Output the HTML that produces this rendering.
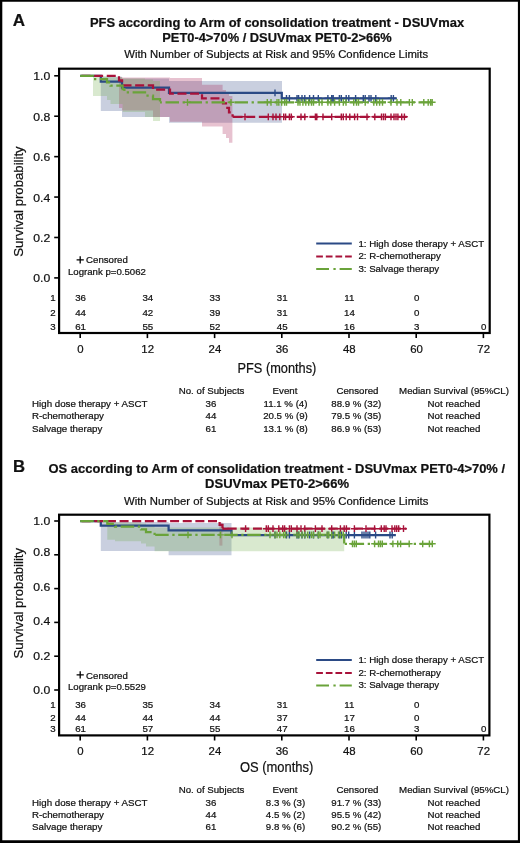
<!DOCTYPE html>
<html><head><meta charset="utf-8"><title>Figure</title>
<style>html,body{margin:0;padding:0;background:#fff;}body{width:520px;height:843px;overflow:hidden;position:relative;font-family:"Liberation Sans", sans-serif;}svg{position:absolute;left:0;top:0;display:block;will-change:transform;}svg text{font-family:"Liberation Sans", sans-serif;fill:#111;stroke:#111;stroke-width:0.22px;}</style></head><body>
<svg width="520" height="843" viewBox="0 0 520 843">
<rect x="0" y="0" width="520" height="843" fill="#fff"/>
<text x="12.7" y="25.7" font-size="17.0" text-anchor="start" font-weight="bold" >A</text>
<text x="277" y="26.6" font-size="12.85" text-anchor="middle" font-weight="bold" textLength="374.2" lengthAdjust="spacingAndGlyphs">PFS according to Arm of consolidation treatment - DSUVmax</text>
<text x="277" y="42.0" font-size="12.85" text-anchor="middle" font-weight="bold" textLength="229.5" lengthAdjust="spacingAndGlyphs">PET0-4&gt;70% / DSUVmax PET0-2&gt;66%</text>
<text x="276.2" y="58.4" font-size="11.3" text-anchor="middle" font-weight="normal" textLength="304" lengthAdjust="spacingAndGlyphs">With Number of Subjects at Risk and 95% Confidence Limits</text>
<path d="M100.8 76.8 L100.8 76.8 L122 76.8 L122 78.6 L169 78.6 L169 81.1 L282 81.1 L282 122.7 L169 122.7 L169 117 L122 117 L122 111 L100.8 111 Z" fill="rgba(75,95,150,0.30)" stroke="none"/>
<path d="M119 77.3 L119 77.3 L122 77.3 L122 77.5 L153 77.5 L153 77.6 L170 77.6 L170 78 L202 78 L202 84.8 L222.6 84.8 L222.6 90 L226 90 L226 93 L229 93 L229 96 L232.4 96 L232.4 142.7 L229 142.7 L229 138 L226 138 L226 134 L222.6 134 L222.6 126.5 L202 126.5 L202 121.7 L170 121.7 L170 117 L153 117 L153 110.5 L122 110.5 L122 108 L119 108 Z" fill="rgba(165,30,80,0.27)" stroke="none"/>
<path d="M93 76.2 L93 76.2 L107 76.2 L107 76.6 L110.5 76.6 L110.5 77.2 L122.6 77.2 L122.6 78.5 L145 78.5 L145 79.5 L153 79.5 L153 81 L160 81 L160 121 L153 121 L153 117 L145 117 L145 112 L122.6 112 L122.6 104 L110.5 104 L110.5 100 L107 100 L107 96 L93 96 Z" fill="rgba(110,170,70,0.26)" stroke="none"/>
<path d="M80.2 75.8 H100.8 V81.6 H122 V87.5 H169 V92.9 H281.8 V98.3 H396.5" stroke="#2b4a85" stroke-width="2.25" fill="none" />
<path d="M80.2 75.8 H119 V80.4 H122 V85.3 H153 V89.6 H170 V93.5 H202 V98.4 H223 V103.3 H226 V107.9 H229 V112.4 H232.6 V116.8" stroke="#a8123a" stroke-width="2.25" fill="none" stroke-dasharray="9 3.63" stroke-dashoffset="11.33"/>
<path d="M232.6 116.8 H407.5" stroke="#a8123a" stroke-width="2.25" fill="none" stroke-dasharray="9 3.63" stroke-dashoffset="11.63"/>
<path d="M80.2 75.8 H93 V79.1 H107 V82.4 H110.5 V85.7 H122.6 V89.1 H124.4 V92.4 H145 V95.7 H153 V99.0 H160 V102.3" stroke="#6aa33a" stroke-width="2.25" fill="none" stroke-dasharray="13.5 3.6 2.3 3.6" stroke-dashoffset="0"/>
<path d="M160 102.3 H435.4" stroke="#6aa33a" stroke-width="2.25" fill="none" stroke-dasharray="13.5 3.6 2.3 3.6" stroke-dashoffset="17.5"/>
<path d="M232.6 116.8H234.2" stroke="#a8123a" stroke-width="2.25" fill="none"/>
<path d="M275 89.5V96.3M271.6 92.9H278.4" stroke="#2b4a85" stroke-width="1.4" fill="none"/>
<path d="M286.5 94.9V101.7M283.1 98.3H289.9 M289.4 94.9V101.7M286.0 98.3H292.8 M297 94.9V101.7M293.6 98.3H300.4 M298.6 94.9V101.7M295.2 98.3H302.0 M302 94.9V101.7M298.6 98.3H305.4 M304.8 94.9V101.7M301.4 98.3H308.2 M309.6 94.9V101.7M306.2 98.3H313.0 M313.5 94.9V101.7M310.1 98.3H316.9 M318.3 94.9V101.7M314.9 98.3H321.7 M327.9 94.9V101.7M324.5 98.3H331.3 M331.7 94.9V101.7M328.3 98.3H335.1 M333.2 94.9V101.7M329.8 98.3H336.6 M339.4 94.9V101.7M336.0 98.3H342.8 M341.3 94.9V101.7M337.9 98.3H344.7 M346.2 94.9V101.7M342.8 98.3H349.6 M348.8 94.9V101.7M345.4 98.3H352.2 M355.6 94.9V101.7M352.2 98.3H359.0 M363.3 94.9V101.7M359.9 98.3H366.7 M365.2 94.9V101.7M361.8 98.3H368.6 M369 94.9V101.7M365.6 98.3H372.4 M371 94.9V101.7M367.6 98.3H374.4 M375.8 94.9V101.7M372.4 98.3H379.2 M391.2 94.9V101.7M387.8 98.3H394.6 M393.4 94.9V101.7M390.0 98.3H396.8" stroke="#2b4a85" stroke-width="1.4" fill="none"/>
<path d="M245 113.4V120.2M241.6 116.8H248.4 M268.3 113.4V120.2M264.9 116.8H271.7 M273 113.4V120.2M269.6 116.8H276.4 M276 113.4V120.2M272.6 116.8H279.4 M279.8 113.4V120.2M276.4 116.8H283.2 M283.7 113.4V120.2M280.3 116.8H287.1 M285.6 113.4V120.2M282.2 116.8H289.0 M289.4 113.4V120.2M286.0 116.8H292.8 M291.3 113.4V120.2M287.9 116.8H294.7 M301 113.4V120.2M297.6 116.8H304.4 M304.8 113.4V120.2M301.4 116.8H308.2 M315.4 113.4V120.2M312.0 116.8H318.8 M316.8 113.4V120.2M313.4 116.8H320.2 M323 113.4V120.2M319.6 116.8H326.4 M331.7 113.4V120.2M328.3 116.8H335.1 M341.3 113.4V120.2M337.9 116.8H344.7 M343.3 113.4V120.2M339.9 116.8H346.7 M346.2 113.4V120.2M342.8 116.8H349.6 M349.8 113.4V120.2M346.4 116.8H353.2 M354.6 113.4V120.2M351.2 116.8H358.0 M357.5 113.4V120.2M354.1 116.8H360.9 M367 113.4V120.2M363.6 116.8H370.4 M374.8 113.4V120.2M371.4 116.8H378.2 M381.5 113.4V120.2M378.1 116.8H384.9 M383.5 113.4V120.2M380.1 116.8H386.9 M385.4 113.4V120.2M382.0 116.8H388.8 M391 113.4V120.2M387.6 116.8H394.4 M394 113.4V120.2M390.6 116.8H397.4 M396 113.4V120.2M392.6 116.8H399.4 M397.9 113.4V120.2M394.5 116.8H401.3 M401.7 113.4V120.2M398.3 116.8H405.1 M404.4 113.4V120.2M401.0 116.8H407.8" stroke="#a8123a" stroke-width="1.4" fill="none"/>
<path d="M187.5 98.9V105.7M184.1 102.3H190.9 M231 98.9V105.7M227.6 102.3H234.4 M267.3 98.9V105.7M263.9 102.3H270.7 M271 98.9V105.7M267.6 102.3H274.4 M277 98.9V105.7M273.6 102.3H280.4 M278.8 98.9V105.7M275.4 102.3H282.2 M281.7 98.9V105.7M278.3 102.3H285.1 M284.6 98.9V105.7M281.2 102.3H288.0 M286.5 98.9V105.7M283.1 102.3H289.9 M298 98.9V105.7M294.6 102.3H301.4 M300 98.9V105.7M296.6 102.3H303.4 M302.9 98.9V105.7M299.5 102.3H306.3 M305.8 98.9V105.7M302.4 102.3H309.2 M308.7 98.9V105.7M305.3 102.3H312.1 M311.5 98.9V105.7M308.1 102.3H314.9 M313.5 98.9V105.7M310.1 102.3H316.9 M319.2 98.9V105.7M315.8 102.3H322.6 M322 98.9V105.7M318.6 102.3H325.4 M327.9 98.9V105.7M324.5 102.3H331.3 M330.8 98.9V105.7M327.4 102.3H334.2 M334.6 98.9V105.7M331.2 102.3H338.0 M339.4 98.9V105.7M336.0 102.3H342.8 M343.3 98.9V105.7M339.9 102.3H346.7 M346 98.9V105.7M342.6 102.3H349.4 M353.7 98.9V105.7M350.3 102.3H357.1 M356.5 98.9V105.7M353.1 102.3H359.9 M358.5 98.9V105.7M355.1 102.3H361.9 M365.2 98.9V105.7M361.8 102.3H368.6 M373.8 98.9V105.7M370.4 102.3H377.2 M376.7 98.9V105.7M373.3 102.3H380.1 M379.6 98.9V105.7M376.2 102.3H383.0 M382.5 98.9V105.7M379.1 102.3H385.9 M391 98.9V105.7M387.6 102.3H394.4 M397 98.9V105.7M393.6 102.3H400.4 M400.8 98.9V105.7M397.4 102.3H404.2 M409.4 98.9V105.7M406.0 102.3H412.8 M412.3 98.9V105.7M408.9 102.3H415.7 M423.8 98.9V105.7M420.4 102.3H427.2 M428.2 98.9V105.7M424.8 102.3H431.6 M430.6 98.9V105.7M427.2 102.3H434.0 M432.2 98.9V105.7M428.8 102.3H435.6" stroke="#6aa33a" stroke-width="1.4" fill="none"/>
<rect x="59.1" y="68.7" width="430.59999999999997" height="264.3" fill="none" stroke="#000" stroke-width="2.2"/>
<path d="M54.2 75.8H59.1" stroke="#000" stroke-width="1.6"/>
<text x="50.3" y="80.25" font-size="11.6" text-anchor="end" font-weight="normal" textLength="17.0" lengthAdjust="spacingAndGlyphs">1.0</text>
<path d="M54.2 116.22H59.1" stroke="#000" stroke-width="1.6"/>
<text x="50.3" y="120.67" font-size="11.6" text-anchor="end" font-weight="normal" textLength="17.0" lengthAdjust="spacingAndGlyphs">0.8</text>
<path d="M54.2 156.64H59.1" stroke="#000" stroke-width="1.6"/>
<text x="50.3" y="161.09" font-size="11.6" text-anchor="end" font-weight="normal" textLength="17.0" lengthAdjust="spacingAndGlyphs">0.6</text>
<path d="M54.2 197.06H59.1" stroke="#000" stroke-width="1.6"/>
<text x="50.3" y="201.51" font-size="11.6" text-anchor="end" font-weight="normal" textLength="17.0" lengthAdjust="spacingAndGlyphs">0.4</text>
<path d="M54.2 237.48H59.1" stroke="#000" stroke-width="1.6"/>
<text x="50.3" y="241.93" font-size="11.6" text-anchor="end" font-weight="normal" textLength="17.0" lengthAdjust="spacingAndGlyphs">0.2</text>
<path d="M54.2 277.9H59.1" stroke="#000" stroke-width="1.6"/>
<text x="50.3" y="282.35" font-size="11.6" text-anchor="end" font-weight="normal" textLength="17.0" lengthAdjust="spacingAndGlyphs">0.0</text>
<path d="M80.2 333.0V338.1" stroke="#000" stroke-width="1.6"/>
<text x="80.5" y="352.7" font-size="11.4" text-anchor="middle" font-weight="normal" >0</text>
<path d="M147.4 333.0V338.1" stroke="#000" stroke-width="1.6"/>
<text x="147.70000000000002" y="352.7" font-size="11.4" text-anchor="middle" font-weight="normal" >12</text>
<path d="M214.6 333.0V338.1" stroke="#000" stroke-width="1.6"/>
<text x="214.9" y="352.7" font-size="11.4" text-anchor="middle" font-weight="normal" >24</text>
<path d="M281.8 333.0V338.1" stroke="#000" stroke-width="1.6"/>
<text x="282.1" y="352.7" font-size="11.4" text-anchor="middle" font-weight="normal" >36</text>
<path d="M349.0 333.0V338.1" stroke="#000" stroke-width="1.6"/>
<text x="349.3" y="352.7" font-size="11.4" text-anchor="middle" font-weight="normal" >48</text>
<path d="M416.2 333.0V338.1" stroke="#000" stroke-width="1.6"/>
<text x="416.5" y="352.7" font-size="11.4" text-anchor="middle" font-weight="normal" >60</text>
<path d="M483.4 333.0V338.1" stroke="#000" stroke-width="1.6"/>
<text x="483.7" y="352.7" font-size="11.4" text-anchor="middle" font-weight="normal" >72</text>
<text transform="translate(23.2 201.6) rotate(-90)" font-size="13.6" text-anchor="middle" textLength="110.5" lengthAdjust="spacingAndGlyphs">Survival probability</text>
<text x="276.9" y="373.3" font-size="15.4" text-anchor="middle" textLength="78.8" lengthAdjust="spacingAndGlyphs">PFS (months)</text>
<path d="M76.6 259.79999999999995H83.8M80.2 256.2V263.4" stroke="#000" stroke-width="1.3"/>
<text x="86.1" y="263.4" font-size="9.65" text-anchor="start" font-weight="normal" >Censored</text>
<text x="68" y="275.1" font-size="9.65" text-anchor="start" font-weight="normal" >Logrank p=0.5062</text>
<path d="M316.2 243.5H351.8" stroke="#2b4a85" stroke-width="2.0" />
<text x="358.4" y="246.8" font-size="9.7" text-anchor="start" font-weight="normal" >1: High dose therapy + ASCT</text>
<path d="M316.2 256.4H351.8" stroke="#a8123a" stroke-width="2.0" stroke-dasharray="6.7 2.93"/>
<text x="358.4" y="259.3" font-size="9.7" text-anchor="start" font-weight="normal" >2: R-chemotherapy</text>
<path d="M316.2 268.9H351.8" stroke="#6aa33a" stroke-width="2.0" stroke-dasharray="12.8 4.4 2.3 3.9"/>
<text x="358.4" y="271.5" font-size="9.7" text-anchor="start" font-weight="normal" >3: Salvage therapy</text>
<text x="55.6" y="301.29999999999995" font-size="9.7" text-anchor="end" font-weight="normal" >1</text>
<text x="80.6" y="301.29999999999995" font-size="9.7" text-anchor="middle" font-weight="normal" >36</text>
<text x="147.8" y="301.29999999999995" font-size="9.7" text-anchor="middle" font-weight="normal" >34</text>
<text x="215.0" y="301.29999999999995" font-size="9.7" text-anchor="middle" font-weight="normal" >33</text>
<text x="282.2" y="301.29999999999995" font-size="9.7" text-anchor="middle" font-weight="normal" >31</text>
<text x="349.4" y="301.29999999999995" font-size="9.7" text-anchor="middle" font-weight="normal" >11</text>
<text x="416.6" y="301.29999999999995" font-size="9.7" text-anchor="middle" font-weight="normal" >0</text>
<text x="55.6" y="315.59999999999997" font-size="9.7" text-anchor="end" font-weight="normal" >2</text>
<text x="80.6" y="315.59999999999997" font-size="9.7" text-anchor="middle" font-weight="normal" >44</text>
<text x="147.8" y="315.59999999999997" font-size="9.7" text-anchor="middle" font-weight="normal" >42</text>
<text x="215.0" y="315.59999999999997" font-size="9.7" text-anchor="middle" font-weight="normal" >39</text>
<text x="282.2" y="315.59999999999997" font-size="9.7" text-anchor="middle" font-weight="normal" >31</text>
<text x="349.4" y="315.59999999999997" font-size="9.7" text-anchor="middle" font-weight="normal" >14</text>
<text x="416.6" y="315.59999999999997" font-size="9.7" text-anchor="middle" font-weight="normal" >0</text>
<text x="55.6" y="329.7" font-size="9.7" text-anchor="end" font-weight="normal" >3</text>
<text x="80.6" y="329.7" font-size="9.7" text-anchor="middle" font-weight="normal" >61</text>
<text x="147.8" y="329.7" font-size="9.7" text-anchor="middle" font-weight="normal" >55</text>
<text x="215.0" y="329.7" font-size="9.7" text-anchor="middle" font-weight="normal" >52</text>
<text x="282.2" y="329.7" font-size="9.7" text-anchor="middle" font-weight="normal" >45</text>
<text x="349.4" y="329.7" font-size="9.7" text-anchor="middle" font-weight="normal" >16</text>
<text x="416.6" y="329.7" font-size="9.7" text-anchor="middle" font-weight="normal" >3</text>
<text x="483.8" y="329.7" font-size="9.7" text-anchor="middle" font-weight="normal" >0</text>
<text x="211.6" y="393.9" font-size="9.7" text-anchor="middle" font-weight="normal" >No. of Subjects</text>
<text x="285" y="393.9" font-size="9.7" text-anchor="middle" font-weight="normal" >Event</text>
<text x="357.5" y="393.9" font-size="9.7" text-anchor="middle" font-weight="normal" >Censored</text>
<text x="454" y="393.9" font-size="9.7" text-anchor="middle" font-weight="normal" >Median Survival (95%CL)</text>
<text x="32.1" y="406.7" font-size="9.72" text-anchor="start" font-weight="normal" >High dose therapy + ASCT</text>
<text x="211" y="406.7" font-size="9.7" text-anchor="middle" font-weight="normal" >36</text>
<text x="285.5" y="406.7" font-size="9.7" text-anchor="middle" font-weight="normal" >11.1 % (4)</text>
<text x="356.3" y="406.7" font-size="9.7" text-anchor="middle" font-weight="normal" >88.9 % (32)</text>
<text x="454" y="406.7" font-size="9.7" text-anchor="middle" font-weight="normal" >Not reached</text>
<text x="32.1" y="419.2" font-size="9.72" text-anchor="start" font-weight="normal" >R-chemotherapy</text>
<text x="211" y="419.2" font-size="9.7" text-anchor="middle" font-weight="normal" >44</text>
<text x="285.5" y="419.2" font-size="9.7" text-anchor="middle" font-weight="normal" >20.5 % (9)</text>
<text x="356.3" y="419.2" font-size="9.7" text-anchor="middle" font-weight="normal" >79.5 % (35)</text>
<text x="454" y="419.2" font-size="9.7" text-anchor="middle" font-weight="normal" >Not reached</text>
<text x="32.1" y="431.7" font-size="9.72" text-anchor="start" font-weight="normal" >Salvage therapy</text>
<text x="211" y="431.7" font-size="9.7" text-anchor="middle" font-weight="normal" >61</text>
<text x="285.5" y="431.7" font-size="9.7" text-anchor="middle" font-weight="normal" >13.1 % (8)</text>
<text x="356.3" y="431.7" font-size="9.7" text-anchor="middle" font-weight="normal" >86.9 % (53)</text>
<text x="454" y="431.7" font-size="9.7" text-anchor="middle" font-weight="normal" >Not reached</text>
<text x="13.0" y="472.2" font-size="16.7" text-anchor="start" font-weight="bold" >B</text>
<text x="276.8" y="472.5" font-size="12.85" text-anchor="middle" font-weight="bold" textLength="456.5" lengthAdjust="spacingAndGlyphs">OS according to Arm of consolidation treatment - DSUVmax PET0-4&gt;70% /</text>
<text x="277" y="487.7" font-size="12.85" text-anchor="middle" font-weight="bold" textLength="144" lengthAdjust="spacingAndGlyphs">DSUVmax PET0-2&gt;66%</text>
<text x="276.2" y="505.3" font-size="11.3" text-anchor="middle" font-weight="normal" textLength="304.5" lengthAdjust="spacingAndGlyphs">With Number of Subjects at Risk and 95% Confidence Limits</text>
<path d="M100.8 522 L100.8 522 L168.6 522 L168.6 523 L231.5 523 L231.5 555.2 L168.6 555.2 L168.6 551 L100.8 551 Z" fill="rgba(75,95,150,0.30)" stroke="none"/>
<path d="M219.4 522.5 L219.4 522.5 L222.4 522.5 L222.4 545.6 L219.4 545.6 Z" fill="rgba(165,30,80,0.27)" stroke="none"/>
<path d="M107.3 521.5 L107.3 521.5 L115 521.5 L115 522.4 L141 522.4 L141 523.6 L146 523.6 L146 525.0 L154.6 525.0 L154.6 527.6 L344.2 527.6 L344.2 551.3 L154.6 551.3 L154.6 546.5 L146 546.5 L146 543.6 L141 543.6 L141 541.3 L115 541.3 L115 539.8 L107.3 539.8 Z" fill="rgba(110,170,70,0.26)" stroke="none"/>
<path d="M80.2 521.0 H100.8 V525.7 H168.6 V530.4 H231.5 V535.0 H395.8" stroke="#2b4a85" stroke-width="2.25" fill="none" />
<path d="M80.2 521.0 H219.6 V524.8 H222.5 V528.7" stroke="#a8123a" stroke-width="2.25" fill="none" stroke-dasharray="9 3.63" stroke-dashoffset="11.13"/>
<path d="M222.5 528.7 H406.3" stroke="#a8123a" stroke-width="2.25" fill="none" stroke-dasharray="9 3.63" stroke-dashoffset="7.43"/>
<path d="M80.2 521.0 H107.3 V523.8 H115 V526.5 H141 V529.3 H146 V532.1 H154.6 V534.9" stroke="#6aa33a" stroke-width="2.25" fill="none" stroke-dasharray="13.5 3.6 2.3 3.6" stroke-dashoffset="0"/>
<path d="M154.6 534.9 H344.2 V543.8" stroke="#6aa33a" stroke-width="2.25" fill="none" stroke-dasharray="13.5 3.6 2.3 3.6" stroke-dashoffset="22.4"/>
<path d="M344.2 543.8 H435.2" stroke="#6aa33a" stroke-width="2.25" fill="none" stroke-dasharray="13.5 3.6 2.3 3.6" stroke-dashoffset="16.6"/>
<path d="M222.5 528.7H228.2" stroke="#a8123a" stroke-width="2.25" fill="none"/>
<path d="M275 531.6V538.4M271.6 535.0H278.4 M286.5 531.6V538.4M283.1 535.0H289.9 M289.4 531.6V538.4M286.0 535.0H292.8 M297 531.6V538.4M293.6 535.0H300.4 M298.6 531.6V538.4M295.2 535.0H302.0 M302 531.6V538.4M298.6 535.0H305.4 M304.8 531.6V538.4M301.4 535.0H308.2 M309.6 531.6V538.4M306.2 535.0H313.0 M313.5 531.6V538.4M310.1 535.0H316.9 M318.3 531.6V538.4M314.9 535.0H321.7 M327.9 531.6V538.4M324.5 535.0H331.3 M331.7 531.6V538.4M328.3 535.0H335.1 M333.2 531.6V538.4M329.8 535.0H336.6 M339.4 531.6V538.4M336.0 535.0H342.8 M341.3 531.6V538.4M337.9 535.0H344.7 M346.2 531.6V538.4M342.8 535.0H349.6 M348.7 531.6V538.4M345.3 535.0H352.1 M354.4 531.6V538.4M351.0 535.0H357.8 M362 531.6V538.4M358.6 535.0H365.4 M364 531.6V538.4M360.6 535.0H367.4 M366 531.6V538.4M362.6 535.0H369.4 M368 531.6V538.4M364.6 535.0H371.4 M369.8 531.6V538.4M366.4 535.0H373.2 M375.6 531.6V538.4M372.2 535.0H379.0 M390 531.6V538.4M386.6 535.0H393.4 M392.2 531.6V538.4M388.8 535.0H395.6" stroke="#2b4a85" stroke-width="1.4" fill="none"/>
<path d="M245.6 525.3V532.1M242.2 528.7H249.0 M266.3 525.3V532.1M262.9 528.7H269.7 M268.3 525.3V532.1M264.9 528.7H271.7 M273 525.3V532.1M269.6 528.7H276.4 M278.8 525.3V532.1M275.4 528.7H282.2 M282.7 525.3V532.1M279.3 528.7H286.1 M284.6 525.3V532.1M281.2 528.7H288.0 M289.4 525.3V532.1M286.0 528.7H292.8 M291.3 525.3V532.1M287.9 528.7H294.7 M297 525.3V532.1M293.6 528.7H300.4 M301 525.3V532.1M297.6 528.7H304.4 M304.8 525.3V532.1M301.4 528.7H308.2 M315.4 525.3V532.1M312.0 528.7H318.8 M322 525.3V532.1M318.6 528.7H325.4 M331.7 525.3V532.1M328.3 528.7H335.1 M340.4 525.3V532.1M337.0 528.7H343.8 M344.2 525.3V532.1M340.8 528.7H347.6 M346.4 525.3V532.1M343.0 528.7H349.8 M354.4 525.3V532.1M351.0 528.7H357.8 M366 525.3V532.1M362.6 528.7H369.4 M374.6 525.3V532.1M371.2 528.7H378.0 M381.3 525.3V532.1M377.9 528.7H384.7 M384.2 525.3V532.1M380.8 528.7H387.6 M386 525.3V532.1M382.6 528.7H389.4 M392 525.3V532.1M388.6 528.7H395.4 M394.8 525.3V532.1M391.4 528.7H398.2 M396.7 525.3V532.1M393.3 528.7H400.1 M398.7 525.3V532.1M395.3 528.7H402.1 M403.5 525.3V532.1M400.1 528.7H406.9" stroke="#a8123a" stroke-width="1.4" fill="none"/>
<path d="M188 531.5V538.3M184.6 534.9H191.4 M220.5 531.5V538.3M217.1 534.9H223.9 M232 531.5V538.3M228.6 534.9H235.4 M270 531.5V538.3M266.6 534.9H273.4 M275 531.5V538.3M271.6 534.9H278.4 M277 531.5V538.3M273.6 534.9H280.4 M279.8 531.5V538.3M276.4 534.9H283.2 M283.7 531.5V538.3M280.3 534.9H287.1 M285.6 531.5V538.3M282.2 534.9H289.0 M297 531.5V538.3M293.6 534.9H300.4 M299 531.5V538.3M295.6 534.9H302.4 M302 531.5V538.3M298.6 534.9H305.4 M304.8 531.5V538.3M301.4 534.9H308.2 M307.7 531.5V538.3M304.3 534.9H311.1 M311.5 531.5V538.3M308.1 534.9H314.9 M313.5 531.5V538.3M310.1 534.9H316.9 M318.3 531.5V538.3M314.9 534.9H321.7 M320 531.5V538.3M316.6 534.9H323.4 M327 531.5V538.3M323.6 534.9H330.4 M328.8 531.5V538.3M325.4 534.9H332.2 M331.7 531.5V538.3M328.3 534.9H335.1 M334.6 531.5V538.3M331.2 534.9H338.0 M338.5 531.5V538.3M335.1 534.9H341.9 M340.4 531.5V538.3M337.0 534.9H343.8 M343.3 531.5V538.3M339.9 534.9H346.7" stroke="#6aa33a" stroke-width="1.4" fill="none"/>
<path d="M352.5 540.4V547.2M349.1 543.8H355.9 M354.4 540.4V547.2M351.0 543.8H357.8 M356.3 540.4V547.2M352.9 543.8H359.7 M374.6 540.4V547.2M371.2 543.8H378.0 M378.5 540.4V547.2M375.1 543.8H381.9 M380.4 540.4V547.2M377.0 543.8H383.8 M382.3 540.4V547.2M378.9 543.8H385.7 M392.9 540.4V547.2M389.5 543.8H396.3 M397.7 540.4V547.2M394.3 543.8H401.1 M400.6 540.4V547.2M397.2 543.8H404.0 M409.2 540.4V547.2M405.8 543.8H412.6 M422.7 540.4V547.2M419.3 543.8H426.1 M429.4 540.4V547.2M426.0 543.8H432.8 M432.3 540.4V547.2M428.9 543.8H435.7" stroke="#6aa33a" stroke-width="1.4" fill="none"/>
<rect x="59.1" y="514.7" width="430.29999999999995" height="220.69999999999993" fill="none" stroke="#000" stroke-width="2.2"/>
<path d="M54.2 521.0H59.1" stroke="#000" stroke-width="1.6"/>
<text x="50.3" y="525.15" font-size="11.6" text-anchor="end" font-weight="normal" textLength="17.0" lengthAdjust="spacingAndGlyphs">1.0</text>
<path d="M54.2 554.8H59.1" stroke="#000" stroke-width="1.6"/>
<text x="50.3" y="556.25" font-size="11.6" text-anchor="end" font-weight="normal" textLength="17.0" lengthAdjust="spacingAndGlyphs">0.8</text>
<path d="M54.2 588.6H59.1" stroke="#000" stroke-width="1.6"/>
<text x="50.3" y="590.85" font-size="11.6" text-anchor="end" font-weight="normal" textLength="17.0" lengthAdjust="spacingAndGlyphs">0.6</text>
<path d="M54.2 622.4H59.1" stroke="#000" stroke-width="1.6"/>
<text x="50.3" y="625.35" font-size="11.6" text-anchor="end" font-weight="normal" textLength="17.0" lengthAdjust="spacingAndGlyphs">0.4</text>
<path d="M54.2 656.2H59.1" stroke="#000" stroke-width="1.6"/>
<text x="50.3" y="659.65" font-size="11.6" text-anchor="end" font-weight="normal" textLength="17.0" lengthAdjust="spacingAndGlyphs">0.2</text>
<path d="M54.2 690.0H59.1" stroke="#000" stroke-width="1.6"/>
<text x="50.3" y="694.35" font-size="11.6" text-anchor="end" font-weight="normal" textLength="17.0" lengthAdjust="spacingAndGlyphs">0.0</text>
<path d="M80.2 735.4V740.5" stroke="#000" stroke-width="1.6"/>
<text x="80.5" y="754.8" font-size="11.4" text-anchor="middle" font-weight="normal" >0</text>
<path d="M147.4 735.4V740.5" stroke="#000" stroke-width="1.6"/>
<text x="147.70000000000002" y="754.8" font-size="11.4" text-anchor="middle" font-weight="normal" >12</text>
<path d="M214.6 735.4V740.5" stroke="#000" stroke-width="1.6"/>
<text x="214.9" y="754.8" font-size="11.4" text-anchor="middle" font-weight="normal" >24</text>
<path d="M281.8 735.4V740.5" stroke="#000" stroke-width="1.6"/>
<text x="282.1" y="754.8" font-size="11.4" text-anchor="middle" font-weight="normal" >36</text>
<path d="M349.0 735.4V740.5" stroke="#000" stroke-width="1.6"/>
<text x="349.3" y="754.8" font-size="11.4" text-anchor="middle" font-weight="normal" >48</text>
<path d="M416.2 735.4V740.5" stroke="#000" stroke-width="1.6"/>
<text x="416.5" y="754.8" font-size="11.4" text-anchor="middle" font-weight="normal" >60</text>
<path d="M483.4 735.4V740.5" stroke="#000" stroke-width="1.6"/>
<text x="483.7" y="754.8" font-size="11.4" text-anchor="middle" font-weight="normal" >72</text>
<text transform="translate(23.2 603.2) rotate(-90)" font-size="13.6" text-anchor="middle" textLength="110.5" lengthAdjust="spacingAndGlyphs">Survival probability</text>
<text x="276.6" y="772.2" font-size="15.4" text-anchor="middle" textLength="73.4" lengthAdjust="spacingAndGlyphs">OS (months)</text>
<path d="M76.6 674.9H83.8M80.2 671.3V678.5" stroke="#000" stroke-width="1.3"/>
<text x="86.1" y="678.5" font-size="9.65" text-anchor="start" font-weight="normal" >Censored</text>
<text x="68" y="690.1" font-size="9.65" text-anchor="start" font-weight="normal" >Logrank p=0.5529</text>
<path d="M316.2 660H351.8" stroke="#2b4a85" stroke-width="2.0" />
<text x="358.4" y="663.1" font-size="9.7" text-anchor="start" font-weight="normal" >1: High dose therapy + ASCT</text>
<path d="M316.2 673H351.8" stroke="#a8123a" stroke-width="2.0" stroke-dasharray="6.7 2.93"/>
<text x="358.4" y="675.6" font-size="9.7" text-anchor="start" font-weight="normal" >2: R-chemotherapy</text>
<path d="M316.2 685.5H351.8" stroke="#6aa33a" stroke-width="2.0" stroke-dasharray="12.8 4.4 2.3 3.9"/>
<text x="358.4" y="687.9" font-size="9.7" text-anchor="start" font-weight="normal" >3: Salvage therapy</text>
<text x="55.6" y="708.3" font-size="9.7" text-anchor="end" font-weight="normal" >1</text>
<text x="80.6" y="708.3" font-size="9.7" text-anchor="middle" font-weight="normal" >36</text>
<text x="147.8" y="708.3" font-size="9.7" text-anchor="middle" font-weight="normal" >35</text>
<text x="215.0" y="708.3" font-size="9.7" text-anchor="middle" font-weight="normal" >34</text>
<text x="282.2" y="708.3" font-size="9.7" text-anchor="middle" font-weight="normal" >31</text>
<text x="349.4" y="708.3" font-size="9.7" text-anchor="middle" font-weight="normal" >11</text>
<text x="416.6" y="708.3" font-size="9.7" text-anchor="middle" font-weight="normal" >0</text>
<text x="55.6" y="720.6999999999999" font-size="9.7" text-anchor="end" font-weight="normal" >2</text>
<text x="80.6" y="720.6999999999999" font-size="9.7" text-anchor="middle" font-weight="normal" >44</text>
<text x="147.8" y="720.6999999999999" font-size="9.7" text-anchor="middle" font-weight="normal" >44</text>
<text x="215.0" y="720.6999999999999" font-size="9.7" text-anchor="middle" font-weight="normal" >44</text>
<text x="282.2" y="720.6999999999999" font-size="9.7" text-anchor="middle" font-weight="normal" >37</text>
<text x="349.4" y="720.6999999999999" font-size="9.7" text-anchor="middle" font-weight="normal" >17</text>
<text x="416.6" y="720.6999999999999" font-size="9.7" text-anchor="middle" font-weight="normal" >0</text>
<text x="55.6" y="731.9" font-size="9.7" text-anchor="end" font-weight="normal" >3</text>
<text x="80.6" y="731.9" font-size="9.7" text-anchor="middle" font-weight="normal" >61</text>
<text x="147.8" y="731.9" font-size="9.7" text-anchor="middle" font-weight="normal" >57</text>
<text x="215.0" y="731.9" font-size="9.7" text-anchor="middle" font-weight="normal" >55</text>
<text x="282.2" y="731.9" font-size="9.7" text-anchor="middle" font-weight="normal" >47</text>
<text x="349.4" y="731.9" font-size="9.7" text-anchor="middle" font-weight="normal" >16</text>
<text x="416.6" y="731.9" font-size="9.7" text-anchor="middle" font-weight="normal" >3</text>
<text x="483.8" y="731.9" font-size="9.7" text-anchor="middle" font-weight="normal" >0</text>
<text x="211.6" y="792.8" font-size="9.7" text-anchor="middle" font-weight="normal" >No. of Subjects</text>
<text x="285" y="792.8" font-size="9.7" text-anchor="middle" font-weight="normal" >Event</text>
<text x="357.5" y="792.8" font-size="9.7" text-anchor="middle" font-weight="normal" >Censored</text>
<text x="454" y="792.8" font-size="9.7" text-anchor="middle" font-weight="normal" >Median Survival (95%CL)</text>
<text x="32.1" y="805.8" font-size="9.72" text-anchor="start" font-weight="normal" >High dose therapy + ASCT</text>
<text x="211" y="805.8" font-size="9.7" text-anchor="middle" font-weight="normal" >36</text>
<text x="285.5" y="805.8" font-size="9.7" text-anchor="middle" font-weight="normal" >8.3 % (3)</text>
<text x="356.3" y="805.8" font-size="9.7" text-anchor="middle" font-weight="normal" >91.7 % (33)</text>
<text x="454" y="805.8" font-size="9.7" text-anchor="middle" font-weight="normal" >Not reached</text>
<text x="32.1" y="817.7" font-size="9.72" text-anchor="start" font-weight="normal" >R-chemotherapy</text>
<text x="211" y="817.7" font-size="9.7" text-anchor="middle" font-weight="normal" >44</text>
<text x="285.5" y="817.7" font-size="9.7" text-anchor="middle" font-weight="normal" >4.5 % (2)</text>
<text x="356.3" y="817.7" font-size="9.7" text-anchor="middle" font-weight="normal" >95.5 % (42)</text>
<text x="454" y="817.7" font-size="9.7" text-anchor="middle" font-weight="normal" >Not reached</text>
<text x="32.1" y="829.8" font-size="9.72" text-anchor="start" font-weight="normal" >Salvage therapy</text>
<text x="211" y="829.8" font-size="9.7" text-anchor="middle" font-weight="normal" >61</text>
<text x="285.5" y="829.8" font-size="9.7" text-anchor="middle" font-weight="normal" >9.8 % (6)</text>
<text x="356.3" y="829.8" font-size="9.7" text-anchor="middle" font-weight="normal" >90.2 % (55)</text>
<text x="454" y="829.8" font-size="9.7" text-anchor="middle" font-weight="normal" >Not reached</text>
<path d="M0 0H520V843H0Z M2.3 1.8H517.9V840.2H2.3Z" fill="#000" fill-rule="evenodd"/>
</svg></body></html>
